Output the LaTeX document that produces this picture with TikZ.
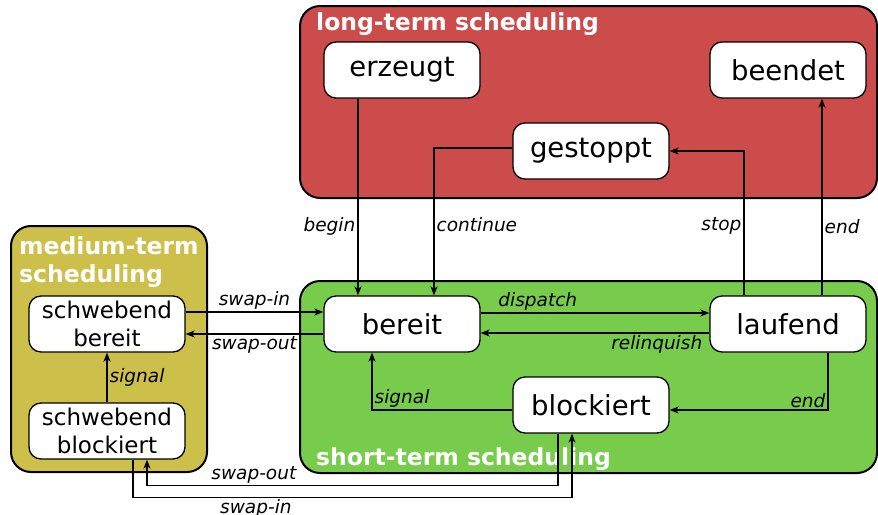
\documentclass[tikz,border=0pt]{standalone}
\usepackage{fontspec}
\setmainfont{DejaVu Sans}[
    ItalicFont={DejaVu Sans Oblique},
    BoldFont={DejaVu Sans Bold}
]
\usetikzlibrary{arrows.meta}

\definecolor{longred}{HTML}{CC4B4B}
\definecolor{shortgreen}{HTML}{77CC4B}
\definecolor{mediumolive}{HTML}{CCC04B}

\begin{document}
\begin{tikzpicture}[
    x=1pt, y=-1pt,
    group/.style={
        rounded corners=20pt,
        draw,
        line width=2pt
    },
    grouptitle/.style={
        anchor=base west,
        inner sep=0pt,
        align=left,
        text=white,
        font=\fontsize{23.5}{28}\selectfont\bfseries
    },
    state/.style={
        rectangle,
        rounded corners=12pt,
        draw,
        fill=white,
        line width=1.3pt,
        align=center,
        minimum width=156pt,
        minimum height=56pt,
        inner sep=0pt,
        font=\fontsize{27.5}{30}\selectfont
    },
    pending/.style={
        state,
        font=\fontsize{23}{28}\selectfont
    },
    arrow/.style={-{Stealth[length=9pt, width=7pt, inset=2.5pt]}, line width=1.3pt},
    lbl/.style={font=\fontsize{18.5}{20}\selectfont\itshape, inner sep=2pt}
]
\useasboundingbox (0,0) rectangle (878,514);

% scheduling levels
\draw[group, fill=longred] (300,6) rectangle (877,198);
\draw[group, fill=shortgreen] (300,281) rectangle (877,473);
\draw[group, fill=mediumolive] (11,226) rectangle (207,472);

\node[grouptitle] (longtitle) at (316,30) {long-term scheduling};
\node[grouptitle] (shorttitle) at (316,465) {short-term scheduling};
\node[grouptitle] (mediumtitle) at (19,282) {medium-term\\scheduling};

% states
\node[state] (erzeugt) at (402,70) {erzeugt};
\node[state] (beendet) at (788,70) {beendet};
\node[state] (gestoppt) at (591,151) {gestoppt};
\node[state] (bereit) at (402,324) {bereit};
\node[state] (laufend) at (788,324) {laufend};
\node[state] (blockiert) at (591,405) {blockiert};
\node[pending] (sbereit) at (107,324) {schwebend\\bereit};
\node[pending] (sblockiert) at (107,431) {schwebend\\blockiert};

% long-term transitions
\draw[arrow] ([xshift=-44pt]erzeugt.south) -- node[lbl, left, pos=0.65] {begin} ([xshift=-44pt]bereit.north);
\draw[arrow] ([yshift=3pt]gestoppt.west) -| node[lbl, right, pos=0.76] {continue} ([xshift=32pt]bereit.north);
\draw[arrow] ([xshift=-44pt]laufend.north) |- node[lbl, left, pos=0.24] {stop} (gestoppt.east);
\draw[arrow] ([xshift=34pt]laufend.north) -- node[lbl, right, pos=0.35] {end} ([xshift=34pt]beendet.south);

% short-term transitions
\draw[arrow] ([yshift=11pt]bereit.east) -- node[lbl, above, pos=0.25] {dispatch} ([yshift=11pt]laufend.west);
\draw[arrow] ([yshift=-9pt]laufend.west) -- node[lbl, below, pos=0.23] {relinquish} ([yshift=-9pt]bereit.east);
\draw[arrow] ([xshift=40pt]laufend.south) |- node[lbl, above left, pos=0.5] {end} ([yshift=-5pt]blockiert.east);
\draw[arrow] ([yshift=-5pt]blockiert.west) -| node[lbl, above right, pos=0.5] {signal} ([xshift=-30pt]bereit.south);

% medium-term transitions
\draw[arrow] ([yshift=12pt]sbereit.east) -- node[lbl, above] {swap-in} ([yshift=12pt]bereit.west);
\draw[arrow] ([yshift=-10pt]bereit.west) -- node[lbl, below] {swap-out} ([yshift=-10pt]sbereit.east);
\draw[arrow] (sblockiert.north) -- node[lbl, right] {signal} (sbereit.south);
\draw[arrow] ([xshift=-33pt]blockiert.south) -- ++(0,-52pt) -| node[lbl, above, pos=0.37] {swap-out} ([xshift=40pt]sblockiert.south);
\draw[arrow] ([xshift=26pt]sblockiert.south) -- ++(0,-38pt) -| node[lbl, below, pos=0.14, inner sep=1pt] {swap-in} ([xshift=-19pt]blockiert.south);
\end{tikzpicture}
\end{document}
